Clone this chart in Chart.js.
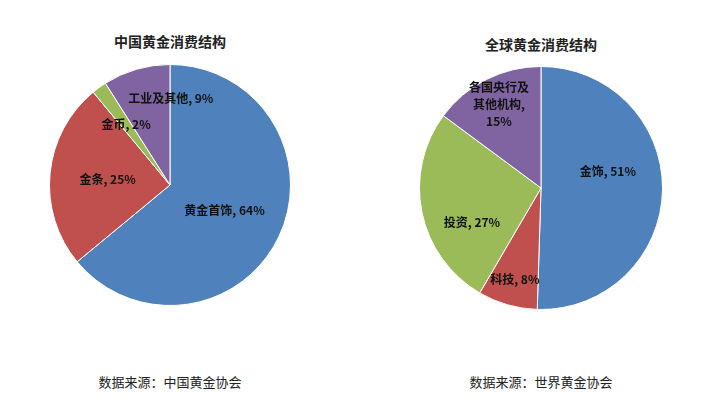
<!DOCTYPE html>
<html><head><meta charset="utf-8">
<script src="https://cdn.jsdelivr.net/npm/chart.js@4"></script>
<style>
body{margin:0;background:#fff;width:720px;height:415px;position:relative;font-family:"Noto Sans CJK SC",sans-serif;color:#222}
.t{position:absolute;font-weight:bold;font-size:14px;text-align:center;width:240px}
.s{position:absolute;font-size:13px;text-align:center;width:240px}
.c{position:absolute}
</style></head><body>
<div class="t" style="left:50px;top:31px">中国黄金消费结构</div>
<div class="t" style="left:421px;top:34px">全球黄金消费结构</div>
<div class="c" style="left:49px;top:64px;width:242px;height:242px"><canvas id="pie1"></canvas></div>
<div class="c" style="left:419px;top:66px;width:244px;height:244px"><canvas id="pie2"></canvas></div>
<div class="s" style="left:50px;top:372px">数据来源：中国黄金协会</div>
<div class="s" style="left:421px;top:372px">数据来源：世界黄金协会</div>
<script>
const colors = ['#4F81BD', '#C0504D', '#9BBB59', '#8064A2'];

const chinaLabels = ['黄金首饰', '金条', '金币', '工业及其他'];
const chinaValues = [64, 25, 2, 9];
// label placement: fraction of radius along mid-angle, plus pixel nudge
const chinaPos = [[0.5, 0, 0], [0.52, 0, 0], [0.62, 0, 0], [0.75, 26, 0]];

const worldLabels = ['金饰', '科技', '投资', '各国央行及\n其他机构'];
const worldValues = [51, 8, 27, 15];
const worldPos = [[0.55, 0, -18], [0.78, 0, 0], [0.58, 0, 20], [0.77, 0, 0]];

const sliceLabels = {
    id: 'sliceLabels',
    afterDatasetsDraw(chart, args, opts) {
        const ctx = chart.ctx;
        const meta = chart.getDatasetMeta(0);
        ctx.save();
        ctx.font = 'bold 12px "Noto Sans CJK SC"';
        ctx.fillStyle = '#111';
        ctx.textAlign = 'center';
        ctx.textBaseline = 'middle';
        meta.data.forEach((arc, i) => {
            const p = opts.pos[i];
            const mid = (arc.startAngle + arc.endAngle) / 2;
            const x = arc.x + Math.cos(mid) * arc.outerRadius * p[0] + p[1];
            const y = arc.y + Math.sin(mid) * arc.outerRadius * p[0] + p[2];
            const lines = (chart.data.labels[i] + ', ' + chart.data.datasets[0].data[i] + '%').split('\n');
            // put percent on its own line for multi-line labels
            if (lines.length > 1) {
                const last = lines.pop();
                const parts = last.split(', ');
                lines.push(parts[0] + ',', parts[1]);
            }
            lines.forEach((l, k) => ctx.fillText(l, x, y + (k - (lines.length - 1) / 2) * 17));
        });
        ctx.restore();
    }
};

function makePie(id, labels, values, pos) {
    new Chart(document.getElementById(id), {
        type: 'pie',
        data: {
            labels: labels,
            datasets: [{ data: values, backgroundColor: colors, borderColor: '#fff', borderWidth: 1 }]
        },
        options: {
            responsive: true,
            maintainAspectRatio: false,
            animation: false,
            layout: { padding: 0 },
            plugins: { legend: { display: false }, tooltip: { enabled: false }, sliceLabels: { pos: pos } }
        },
        plugins: [sliceLabels]
    });
}

makePie('pie1', chinaLabels, chinaValues, chinaPos);
makePie('pie2', worldLabels, worldValues, worldPos);
</script>
</body></html>
